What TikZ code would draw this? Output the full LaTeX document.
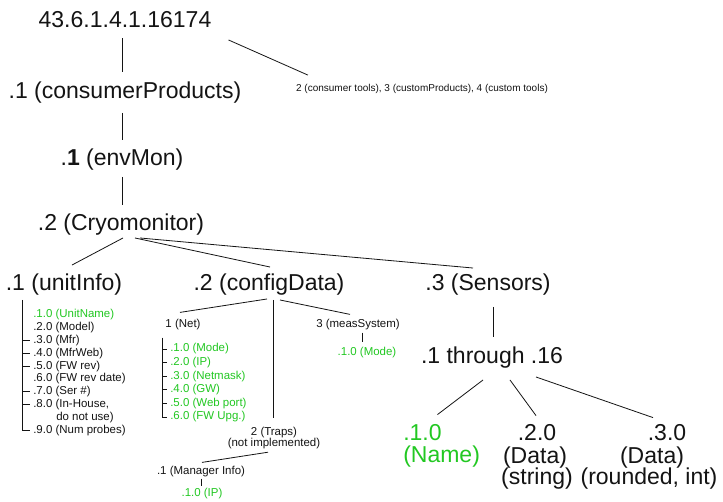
\documentclass[tikz,border=0pt]{standalone}
\usepackage{fontspec}
\setmainfont{Liberation Sans}
\definecolor{oidgreen}{RGB}{34,200,34}
\definecolor{ink}{RGB}{20,20,20}
\begin{document}
\begin{tikzpicture}[x=0.75pt,y=-0.75pt,
  big/.style={font=\fontsize{17.25}{18}\selectfont, inner sep=0pt, text=ink},
  small/.style={font=\fontsize{8.6}{10}\selectfont, inner sep=0pt, text=ink},
  tiny/.style={font=\fontsize{7.5}{9}\selectfont, inner sep=0pt, text=ink},
  grn/.style={text=oidgreen},
  conn/.style={draw=ink, line width=0.6pt}]
\useasboundingbox[fill=white] (0,0) rectangle (723,502);

% main chain
\node[big] (root) at (125,20) {43.6.1.4.1.16174};
\node[big] (cp) at (125,93) {.1 (consumerProducts)};
\node[big] (env) at (122,160) {.\textbf{1} (envMon)};
\node[big] (cryo) at (121,225) {.2 (Cryomonitor)};
\node[tiny] (other) at (422,89) {2 (consumer tools), 3 (customProducts), 4 (custom tools)};

\draw[conn] ([shift={(-3,10)}]root.south) -- ([shift={(-3,-10)}]cp.north);
\draw[conn] ([shift={(-3,9)}]cp.south) -- ([shift={(0,-9)}]env.north);
\draw[conn] ([shift={(0,6)}]env.south) -- ([shift={(1,-9)}]cryo.north);
\draw[conn] ([shift={(17,20)}]root.east) -- ([shift={(12,-9)}]other.north west);

% second level
\node[big] (unit) at (64,285) {.1 (unitInfo)};
\node[big] (config) at (269,285) {.2 (configData)};
\node[big] (sens) at (488,285) {.3 (Sensors)};

\draw[conn] ([shift={(2,2)}]cryo.south) -- ([shift={(8,-9)}]unit.north);
\draw[conn] ([shift={(14,2)}]cryo.south) -- ([shift={(1,-7)}]config.north);
\draw[conn] ([shift={(19,2)}]cryo.south) -- ([shift={(-15,-6)}]sens.north);

% unitInfo list
\node[small,grn,anchor=west] (u1) at (33,315) {.1.0 (UnitName)};
\node[small,anchor=west] (u2) at (33,327.8) {.2.0 (Model)};
\node[small,anchor=west] (u3) at (33,340.6) {.3.0 (Mfr)};
\node[small,anchor=west] (u4) at (33,353.4) {.4.0 (MfrWeb)};
\node[small,anchor=west] (u5) at (33,366.2) {.5.0 (FW rev)};
\node[small,anchor=west] (u6) at (33,379) {.6.0 (FW rev date)};
\node[small,anchor=west] (u7) at (33,391.8) {.7.0 (Ser \#)};
\node[small,anchor=west] (u8) at (33,404.6) {.8.0 (In-House,};
\node[small,anchor=west] (u8b) at (56,417.4) {do not use)};
\node[small,anchor=west] (u9) at (33,430.2) {.9.0 (Num probes)};

\draw[conn] ([shift={(-42,4)}]unit.south) |- ([shift={(-3,0)}]u9.west);
\foreach \n in {u3,u4,u5,u7,u8}
  \draw[conn] ([shift={(-11,0)}]\n.west) -- ([shift={(-3,0)}]\n.west);

% configData subtree
\node[small] (net) at (183,325) {1 (Net)};
\node[small,align=center,font=\fontsize{8.6}{8.4}\selectfont] (traps) at (274,438) {2 (Traps)\\(not implemented)};
\node[small] (meas) at (358,325) {3 (measSystem)};

\draw[conn] ([shift={(-2,3)}]config.south) -- ([shift={(-3,-7)}]net.north);
\draw[conn] ([shift={(4,4)}]config.south) -- ([shift={(-1,-9)}]traps.north);
\draw[conn] ([shift={(11,4)}]config.south) -- ([shift={(-8,-5)}]meas.north);

\node[small,grn,anchor=west] (n1) at (170,349) {.1.0 (Mode)};
\node[small,grn,anchor=west] (n2) at (170,362.6) {.2.0 (IP)};
\node[small,grn,anchor=west] (n3) at (170,376.2) {.3.0 (Netmask)};
\node[small,grn,anchor=west] (n4) at (170,389.8) {.4.0 (GW)};
\node[small,grn,anchor=west] (n5) at (170,403.4) {.5.0 (Web port)};
\node[small,grn,anchor=west] (n6) at (170,417) {.6.0 (FW Upg.)};

\draw[conn] ([shift={(-21,7)}]net.south) |- ([shift={(-3,0)}]n6.west);
\foreach \n in {n1,n2,n3,n4,n5}
  \draw[conn] ([shift={(-8,0)}]\n.west) -- ([shift={(-3,0)}]\n.west);

\node[small] (mgr) at (201,472) {.1 (Manager Info)};
\node[small,grn] (ip) at (202,494) {.1.0 (IP)};
\draw[conn] ([shift={(-6,3)}]traps.south) -- ([shift={(1,-4)}]mgr.north);
\draw[conn] ([shift={(0,1)}]mgr.south) -- ([shift={(-1,-2)}]ip.north);

\node[small,grn] (mmode) at (367,353) {.1.0 (Mode)};
\draw[conn] ([shift={(4,2)}]meas.south) -- ([shift={(-5,-5)}]mmode.north);

% Sensors subtree
\node[big] (thru) at (492,358) {.1 through .16};
\draw[conn] ([shift={(5,11)}]sens.south) -- ([shift={(1,-10)}]thru.north);

\node[big,grn,anchor=west] (s1a) at (403,433) {.1.0};
\node[big,grn,anchor=west] (s1b) at (403,457) {(Name)};
\node[big] (s2a) at (537,433) {.2.0};
\node[big] (s2b) at (535,458) {(Data)};
\node[big] (s2c) at (537,479) {(string)};
\node[big] (s3a) at (667,433) {.3.0};
\node[big] (s3b) at (652,458) {(Data)};
\node[big] (s3c) at (649,479) {(rounded, int)};

\draw[conn] ([shift={(-9,11)}]thru.south) -- ([shift={(15,-10)}]s1a.north);
\draw[conn] ([shift={(18,11)}]thru.south) -- ([shift={(-1,-9)}]s2a.north);
\draw[conn] ([shift={(44,8)}]thru.south) -- ([shift={(-14,-7)}]s3a.north);
\end{tikzpicture}
\end{document}
